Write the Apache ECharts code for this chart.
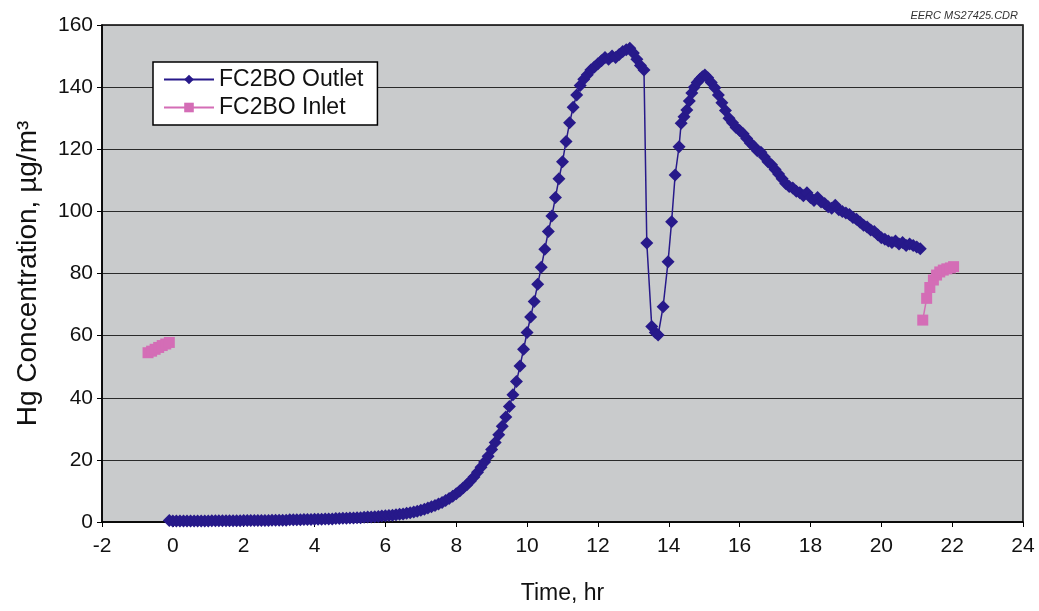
<!DOCTYPE html>
<html>
<head>
<meta charset="utf-8">
<script src="https://cdn.jsdelivr.net/npm/echarts@6/dist/echarts.min.js"></script>
<style>
html,body{margin:0;padding:0;background:#fff;}
#chart{width:1039px;height:611px;}
</style>
</head>
<body>
<div id="chart"></div>
<script>
const xTicks = [-2,0,2,4,6,8,10,12,14,16,18,20,22,24];
const yTicks = [0,20,40,60,80,100,120,140,160];

const outletTime = [
-0.1,
0.0,0.1,0.2,0.3,0.4,0.5,0.6,0.7,0.8,0.9,
1.0,1.1,1.2,1.3,1.4,1.5,1.6,1.7,1.8,1.9,
2.0,2.1,2.2,2.3,2.4,2.5,2.6,2.7,2.8,2.9,
3.0,3.1,3.2,3.3,3.4,3.5,3.6,3.7,3.8,3.9,
4.0,4.1,4.2,4.3,4.4,4.5,4.6,4.7,4.8,4.9,
5.0,5.1,5.2,5.3,5.4,5.5,5.6,5.7,5.8,5.9,
6.0,6.1,6.2,6.3,6.4,6.5,6.6,6.7,6.8,6.9,
7.0,7.1,7.2,7.3,7.4,7.5,7.6,7.7,7.8,7.9,
8.0,8.1,8.2,8.3,8.4,8.5,8.6,8.7,8.8,8.9,
9.0,9.1,9.2,9.3,9.4,9.5,9.6,9.7,9.8,9.9,
10.0,10.1,10.2,10.3,10.4,10.5,10.6,10.7,10.8,10.9,
11.0,11.1,11.2,11.3,11.4,11.5,11.6,11.7,11.8,11.9,
12.0,12.1,12.2,12.3,12.4,12.5,12.6,12.7,12.8,12.9,
13.0,13.1,13.2,13.3,
13.38,13.52,13.62,13.70,13.84,13.98,14.08,14.18,14.29,14.35,
14.43,14.51,14.58,14.65,14.72,14.80,14.88,14.95,15.02,
15.1,15.2,15.3,15.4,15.5,15.6,15.7,15.8,15.9,
16.0,16.1,16.2,16.3,16.4,16.5,16.6,16.7,16.8,16.9,
17.0,17.1,17.2,17.3,17.4,17.5,17.6,17.7,17.8,17.9,
18.0,18.1,18.2,18.3,18.4,18.5,18.6,18.7,18.8,18.9,
19.0,19.1,19.2,19.3,19.4,19.5,19.6,19.7,19.8,19.9,
20.0,20.1,20.2,20.3,20.4,20.5,20.6,20.7,20.8,20.9,
21.0,21.1
];
const outletHg = [
0.5,
0.3,0.3,0.3,0.3,0.3,0.3,0.3,0.3,0.3,0.3,
0.3,0.4,0.4,0.4,0.4,0.4,0.4,0.4,0.4,0.4,
0.5,0.5,0.5,0.5,0.5,0.5,0.5,0.5,0.6,0.6,
0.6,0.6,0.6,0.7,0.7,0.7,0.7,0.8,0.8,0.8,
0.9,0.9,0.9,1.0,1.0,1.0,1.1,1.1,1.2,1.2,
1.3,1.3,1.4,1.4,1.5,1.6,1.6,1.7,1.8,1.9,
2.0,2.1,2.2,2.3,2.5,2.6,2.8,3.0,3.2,3.5,
3.8,4.1,4.5,4.9,5.3,5.8,6.3,6.9,7.6,8.3,
9.1,10.0,11.0,12.0,13.2,14.5,16.0,17.6,19.3,21.2,
23.3,25.6,28.1,30.8,33.8,37.2,41.0,45.2,50.2,55.6,
61.0,66.0,71.0,76.5,82.0,87.8,93.5,98.5,104.5,110.5,
116.0,122.5,128.5,133.5,137.5,140.5,142.5,144.0,145.5,146.5,
147.5,148.5,149.5,149.0,150.0,149.5,150.5,151.5,152.0,152.5,
151.0,149.0,147.0,145.5,
89.8,62.9,61.0,60.2,69.3,83.8,96.7,111.7,120.8,128.4,
130.5,132.6,135.5,138.1,140.0,141.5,142.5,143.3,143.9,
143.0,141.5,139.8,137.5,135.0,132.5,130.0,128.5,127.0,
126.0,125.0,123.5,122.0,121.0,119.5,119.0,117.5,116.0,115.0,
113.5,112.0,110.5,109.0,108.0,107.5,106.5,106.0,105.0,106.0,
104.5,103.5,104.5,103.0,102.5,101.5,101.0,102.0,100.5,100.0,
99.5,99.0,98.0,97.5,96.5,95.5,95.0,94.0,93.5,92.5,
91.5,91.0,90.5,90.0,90.5,89.5,90.0,89.0,89.5,89.0,
88.5,88.0
];

const inletTime = [-0.7,-0.6,-0.5,-0.4,-0.3,-0.2,-0.1, 10, 21.17,21.28,21.37,21.47,21.56,21.65,21.75,21.85,21.95,22.04];
const inletHg   = [54.5,55.0,55.6,56.2,56.8,57.3,57.8, '-', 65.0,72.0,75.5,77.9,79.5,80.5,81.1,81.5,81.8,82.2];

const outletColor = '#27198a';
const inletColor = '#d46db6';
const fontFam = '"Liberation Sans", Arial, sans-serif';

const chart = echarts.init(document.getElementById('chart'), null, {renderer:'canvas'});
chart.setOption({
  animation: false,
  backgroundColor: '#ffffff',
  textStyle: {fontFamily: fontFam},
  title: {
    text: 'EERC MS27425.CDR',
    right: 16, top: 5,
    textStyle: {fontSize: 11, fontStyle: 'italic', fontWeight: 'normal', color: '#333', fontFamily: fontFam}
  },
  legend: {
    orient: 'vertical',
    left: 153, top: 62,
    backgroundColor: '#ffffff',
    borderColor: '#000', borderWidth: 1.5,
    padding: [6, 14, 6, 10],
    itemGap: 5,
    itemWidth: 50, itemHeight: 12,
    textStyle: {fontSize: 23, color: '#111', fontFamily: fontFam},
    data: ['FC2BO Outlet', 'FC2BO Inlet']
  },
  grid: {
    left: 102, right: 16, top: 25, bottom: 89,
    show: true, backgroundColor: '#c9cbcc', borderColor: '#000', borderWidth: 1.5
  },
  xAxis: {
    type: 'value', min: -2, max: 24, interval: 2,
    name: 'Time, hr', nameLocation: 'middle', nameGap: 60,
    nameTextStyle: {fontSize: 23, color: '#111', fontFamily: fontFam},
    axisLine: {show: true, onZero: false, lineStyle: {color: '#000', width: 1.5}},
    axisTick: {show: true, length: 5, lineStyle: {color: '#000'}},
    axisLabel: {fontSize: 21, color: '#111', margin: 14, fontFamily: fontFam},
    splitLine: {show: false}
  },
  yAxis: {
    type: 'value', min: 0, max: 160, interval: 20,
    name: 'Hg Concentration, µg/m³', nameLocation: 'middle', nameGap: 60,
    nameTextStyle: {fontSize: 28, color: '#111', fontFamily: fontFam},
    axisLine: {show: true, onZero: false, lineStyle: {color: '#000', width: 1.5}},
    axisTick: {show: true, length: 5, lineStyle: {color: '#000'}},
    axisLabel: {fontSize: 21, color: '#111', margin: 9, fontFamily: fontFam},
    splitLine: {show: true, lineStyle: {color: '#2a2a2a', width: 1.2}}
  },
  series: [
    {
      name: 'FC2BO Outlet', type: 'line',
      data: outletTime.map((t, i) => [t, outletHg[i]]),
      symbol: 'diamond', symbolSize: 13,
      itemStyle: {color: outletColor},
      lineStyle: {color: outletColor, width: 1.5},
      z: 3
    },
    {
      name: 'FC2BO Inlet', type: 'line',
      data: inletTime.map((t, i) => [t, inletHg[i]]),
      connectNulls: false,
      symbol: 'rect', symbolSize: 11,
      itemStyle: {color: inletColor},
      lineStyle: {color: inletColor, width: 1.5},
      z: 2
    }
  ]
});
</script>
</body>
</html>
